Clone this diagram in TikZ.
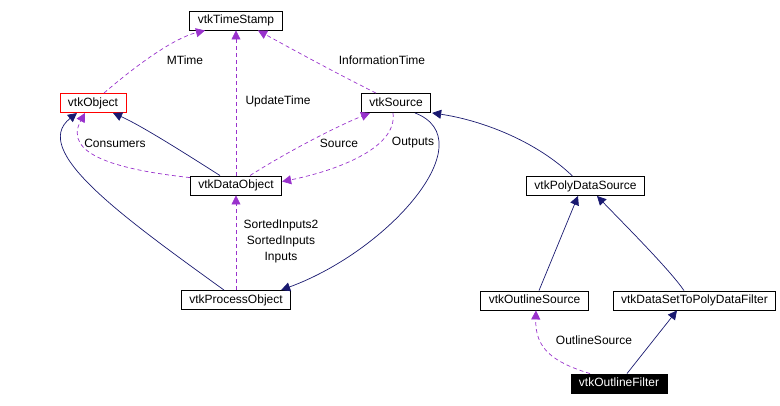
\documentclass[tikz,border=0pt]{standalone}
\usepackage{fontspec}
\setmainfont{Liberation Sans}
\usetikzlibrary{arrows.meta}
\definecolor{inhcol}{RGB}{25,25,112}
\definecolor{usecol}{RGB}{153,50,204}
\begin{document}
\begin{tikzpicture}[x=1pt, y=-1pt, every node/.style={font=\fontsize{12}{16}\selectfont}]
    \tikzstyle{box} = [rectangle, draw, line width=0.9pt, fill=white, inner xsep=8pt, inner ysep=0pt, minimum height=19pt, text height=9pt, text depth=2.5pt]
    \tikzstyle{inherit} = [draw=inhcol, line width=0.7pt, -{Triangle[length=9pt,width=9pt]}, inhcol]
    \tikzstyle{uses} = [draw=usecol, line width=0.7pt, dash pattern=on 4pt off 3pt, -{Triangle[length=9pt,width=9pt]}, usecol]
    \tikzstyle{lbl} = [inner sep=1pt, align=center]
    \useasboundingbox (0,0) rectangle (780,405);

    \node (timestamp) [box] at (236,20.5) {vtkTimeStamp};
    \node (object) [box, draw=red] at (93,103) {vtkObject};
    \node (source) [box] at (396,103) {vtkSource};
    \node (dataobject) [box] at (236,185.5) {vtkDataObject};
    \node (processobject) [box] at (236,300) {vtkProcessObject};
    \node (polysource) [box] at (585.5,186) {vtkPolyDataSource};
    \node (outlinesource) [box] at (534.5,300.5) {vtkOutlineSource};
    \node (dstopd) [box] at (694.5,300.5) {vtkDataSetToPolyDataFilter};
    \node (outlinefilter) [box, fill=black, text=white] at (619,383.5) {vtkOutlineFilter};

    % usage (dashed) links with their labels
    \draw [uses] ([xshift=11pt]object.north) .. controls (140,62) and (175,38) .. ([xshift=-31pt]timestamp.south);
    \node (mtime) [lbl] at (185,60) {MTime};
    \draw [uses] (dataobject.north) -- (timestamp.south);
    \node (updtime) [lbl] at (278,101) {UpdateTime};
    \draw [uses] ([xshift=-20pt]source.north) .. controls (330,70) and (290,48) .. ([xshift=22pt]timestamp.south);
    \node (infotime) [lbl] at (382,60) {InformationTime};
    \draw [uses] ([yshift=-2pt]dataobject.north west) .. controls (120,170) and (62,155) .. ([xshift=-8pt]object.south);
    \node (consumers) [lbl] at (115,143) {Consumers};
    \draw [uses] ([xshift=14pt]dataobject.north) .. controls (290,150) and (340,125) .. ([xshift=-26pt]source.south);
    \node (srclbl) [lbl] at (339,143) {Source};
    \draw [uses] ([xshift=-3pt]source.south) .. controls (398,150) and (330,172) .. ([yshift=-6pt]dataobject.north east);
    \node (outputs) [lbl] at (413,143) {Outputs};
    \draw [uses] (processobject.north) -- (dataobject.south);
    \node (inputs) [lbl] at (281,241) {SortedInputs2\\SortedInputs\\Inputs};
    \draw [uses] ([xshift=-29pt]outlinefilter.north) .. controls (552,362) and (535,348) .. ([xshift=1.5pt]outlinesource.south);
    \node (outlbl) [lbl] at (594,340) {OutlineSource};

    % inheritance (solid) links
    \draw [inherit] ([xshift=-16pt]dataobject.north) .. controls (180,150) and (140,125) .. ([xshift=20pt]object.south);
    \draw [inherit] ([xshift=-12pt]processobject.north) .. controls (120,215) and (30,150) .. ([xshift=-16pt]object.south);
    \draw [inherit] ([xshift=19pt]source.south) .. controls (485,140) and (390,250) .. ([xshift=-10pt]processobject.north east);
    \draw [inherit] ([xshift=-13pt]polysource.north) .. controls (535,140) and (480,120) .. ([xshift=1pt]source.south east);
    \draw [inherit] ([xshift=4.5pt]outlinesource.north) -- ([xshift=-7.5pt]polysource.south);
    \draw [inherit] ([xshift=-10.5pt]dstopd.north) .. controls (670,270) and (625,225) .. ([xshift=11.5pt]polysource.south);
    \draw [inherit] ([xshift=8pt]outlinefilter.north) -- ([xshift=-17.5pt]dstopd.south);
\end{tikzpicture}
\end{document}
